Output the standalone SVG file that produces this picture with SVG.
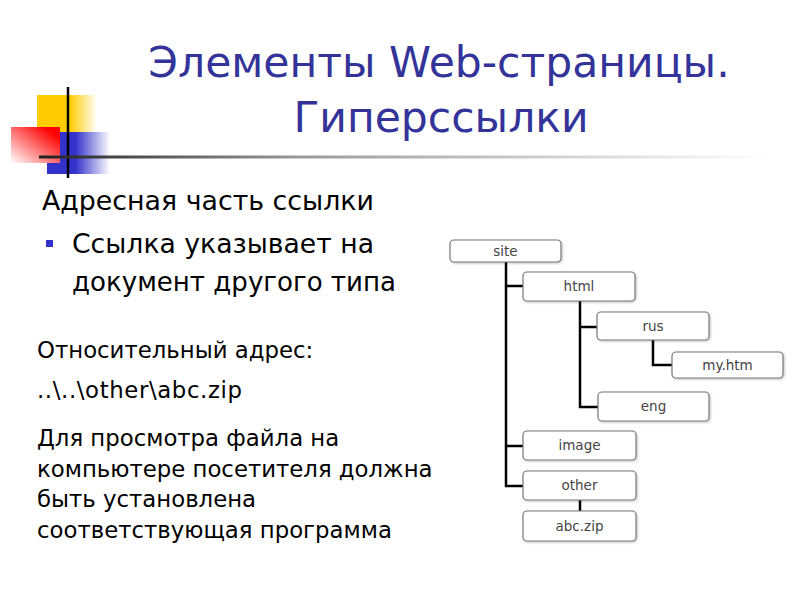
<svg xmlns="http://www.w3.org/2000/svg" width="800" height="600" viewBox="0 0 800 600">
<defs>
<linearGradient id="gY" x1="0" y1="0" x2="1" y2="0"><stop offset="0.55" stop-color="#FFCC00"/><stop offset="1" stop-color="#FFFFFF"/></linearGradient>
<linearGradient id="gR" x1="1" y1="0" x2="0" y2="1"><stop offset="0.15" stop-color="#FF0000"/><stop offset="1" stop-color="#FFFFFF"/></linearGradient>
<linearGradient id="gB" x1="0" y1="0" x2="1" y2="0"><stop offset="0.45" stop-color="#3333CC"/><stop offset="1" stop-color="#FFFFFF"/></linearGradient>
<linearGradient id="gL" x1="40" y1="0" x2="770" y2="0" gradientUnits="userSpaceOnUse"><stop offset="0" stop-color="#222222"/><stop offset="0.35" stop-color="#999999"/><stop offset="1" stop-color="#FFFFFF"/></linearGradient>
<filter id="sh" x="-10%" y="-20%" width="130%" height="160%"><feDropShadow dx="1" dy="1" stdDeviation="0.8" flood-color="#000" flood-opacity="0.25"/></filter>
</defs>
<style>
.title{font-family:"DejaVu Sans","Liberation Sans",sans-serif;font-size:42.5px;fill:#333399;text-anchor:middle}
.body{font-family:"DejaVu Sans","Liberation Sans",sans-serif;fill:#000}
.box rect{fill:#fff;stroke:#777;stroke-width:1.2;filter:url(#sh)}
.box text{font-family:"DejaVu Sans","Liberation Sans",sans-serif;font-size:13.5px;fill:#444;text-anchor:middle}
.conn{fill:none;stroke:#000;stroke-width:2.5}
</style>
<rect width="800" height="600" fill="#fff"/>
<g id="decor">
<rect x="37" y="95" width="60" height="38" fill="url(#gY)"/>
<rect x="47" y="132" width="63" height="42" fill="url(#gB)"/>
<rect x="11" y="127" width="49" height="36" fill="url(#gR)"/>
<line x1="68" y1="87" x2="68" y2="178" stroke="#000" stroke-width="2.5"/>
<rect x="39" y="155.5" width="740" height="3" fill="url(#gL)"/>
</g>
<g id="title">
<text class="title" x="439" y="77">Элементы Web-страницы.</text>
<text class="title" x="441" y="132">Гиперссылки</text>
</g>
<g id="text-left">
<text class="body" x="42" y="210" font-size="26.8">Адресная часть ссылки</text>
<rect x="46" y="240" width="7" height="7" fill="#3333CC"/>
<text class="body" x="72" y="253" font-size="27" textLength="302" lengthAdjust="spacingAndGlyphs">Ссылка указывает на</text>
<text class="body" x="72" y="291" font-size="27" textLength="324" lengthAdjust="spacingAndGlyphs">документ другого типа</text>
<text class="body" x="37" y="358" font-size="22.8">Относительный адрес:</text>
<text class="body" x="37" y="398" font-size="22.8" textLength="205" lengthAdjust="spacing">..\..\other\abc.zip</text>
<text class="body" x="37" y="446" font-size="22.8">Для просмотра файла на</text>
<text class="body" x="37" y="477" font-size="22.8">компьютере посетителя должна</text>
<text class="body" x="37" y="507" font-size="22.8">быть установлена</text>
<text class="body" x="37" y="538" font-size="22.8">соответствующая программа</text>
</g>
<g id="connectors">
<path class="conn" d="M506 262 V486 H523"/>
<path class="conn" d="M506 286 H523"/>
<path class="conn" d="M506 446 H523"/>
<path class="conn" d="M580 301 V407 H598"/>
<path class="conn" d="M580 327 H597"/>
<path class="conn" d="M653 340 V365 H672"/>
<path class="conn" d="M580 500 V511"/>
</g>
<g id="node-site" class="box"><rect x="450" y="240" width="111" height="22" rx="4"/><text x="505.5" y="256">site</text></g>
<g id="node-html" class="box"><rect x="523" y="272" width="112" height="29" rx="4"/><text x="579" y="291">html</text></g>
<g id="node-rus" class="box"><rect x="597" y="312" width="112" height="28" rx="4"/><text x="653" y="331">rus</text></g>
<g id="node-myhtm" class="box"><rect x="672" y="352" width="111" height="26" rx="4"/><text x="727.5" y="370">my.htm</text></g>
<g id="node-eng" class="box"><rect x="598" y="392" width="111" height="29" rx="4"/><text x="653.5" y="411">eng</text></g>
<g id="node-image" class="box"><rect x="523" y="431" width="113" height="29" rx="4"/><text x="579.5" y="450">image</text></g>
<g id="node-other" class="box"><rect x="523" y="471" width="113" height="29" rx="4"/><text x="579.5" y="490">other</text></g>
<g id="node-abczip" class="box"><rect x="523" y="511" width="113" height="30" rx="4"/><text x="579.5" y="531">abc.zip</text></g>
</svg>
